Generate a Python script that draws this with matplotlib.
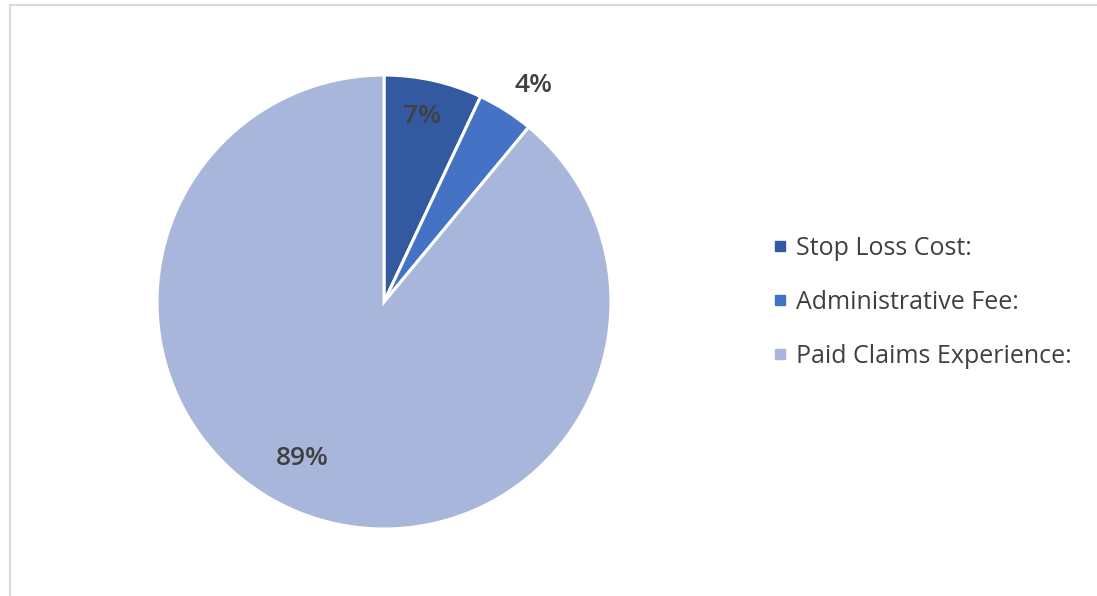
import numpy as np
import matplotlib.pyplot as plt
from matplotlib.patches import Rectangle
from matplotlib.lines import Line2D

# Datos
categories = ['Stop Loss Cost:', 'Administrative Fee:', 'Paid Claims Experience:']
values = [7, 4, 89]
colors = ['#335aa0', '#4472c4', '#a9b6db']

# posicion de etiquetas (distancia radial, desplazamiento angular en grados)
label_dist = [0.836, 1.16, 0.78]
label_shift = [1.0, -2.1, -7.8]

fig = plt.figure(figsize=(10.97, 5.96), dpi=100)

# Marco gris
fig.patches.append(Rectangle((10 / 1097, -0.1), 1.2, (596 - 5) / 596 + 0.1,
                             transform=fig.transFigure, fill=False,
                             edgecolor='#d9d9d9', lw=1.5))

ax = fig.add_axes([0.1431, 0.1124, 0.4139, 0.7617])
wedges, _ = ax.pie(values, colors=colors, startangle=90, counterclock=False,
                   radius=1.0, wedgeprops=dict(edgecolor='white', linewidth=2.2))
ax.set_xlim(-1, 1)
ax.set_ylim(-1, 1)
ax.set_aspect('equal')
ax.axis('off')

for w, v, d, s in zip(wedges, values, label_dist, label_shift):
    ang = np.deg2rad((w.theta1 + w.theta2) / 2 + s)
    ax.text(d * np.cos(ang), d * np.sin(ang), f'{v}%', ha='center', va='center',
            fontsize=19, fontweight='semibold', color='#404040', family='Open Sans')

handles = [Line2D([], [], marker='s', linestyle='', markersize=7,
                  markerfacecolor=c, markeredgecolor=c) for c in colors]
fig.legend(handles, categories, loc='center left', bbox_to_anchor=(0.7033, 0.493),
           frameon=False, prop={'family': 'Open Sans', 'size': 18},
           labelcolor='#404040', handletextpad=0.33, handlelength=0.66,
           labelspacing=1.16, borderpad=0, borderaxespad=0)

fig.savefig('out.png', dpi=100)
